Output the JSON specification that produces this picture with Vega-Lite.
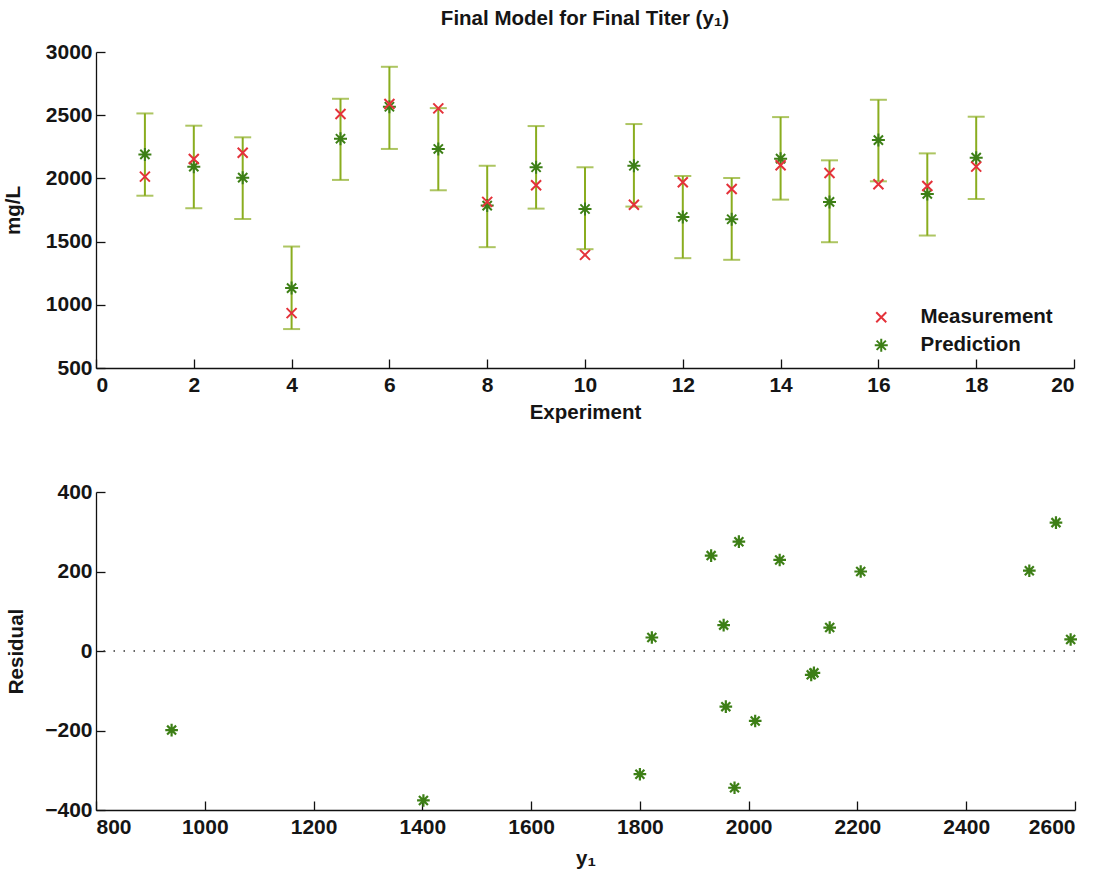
{
  "$schema": "https://vega.github.io/schema/vega-lite/v6.json",
  "background": "white",
  "padding": {"left": 3, "top": 8, "right": 5, "bottom": 5},
  "spacing": 58,
  "config": {
    "font": "Liberation Sans",
    "view": {"stroke": null},
    "axis": {"grid": false, "domainColor": "#111", "domainWidth": 1.3, "tickColor": "#111", "tickSize": -9, "tickWidth": 1.3, "labelFontSize": 21, "labelFontWeight": "bold", "labelColor": "#151515", "labelPadding": 13, "titleFontSize": 20.5, "titleFontWeight": "bold", "titleColor": "#151515", "labelFont": "Liberation Sans", "titleFont": "Liberation Sans", "format": "d"},
    "axisX": {"labelPadding": 15},
    "title": {"fontSize": 20.5, "fontWeight": "bold", "font": "Liberation Sans", "color": "#151515"}
  },
  "datasets": {
    "top": [
      {"Experiment": 1, "Measurement": 2014, "Prediction": 2190, "lo": 1863, "hi": 2514},
      {"Experiment": 2, "Measurement": 2153, "Prediction": 2093, "lo": 1764, "hi": 2417},
      {"Experiment": 3, "Measurement": 2203, "Prediction": 2006, "lo": 1679, "hi": 2325},
      {"Experiment": 4, "Measurement": 934, "Prediction": 1132, "lo": 808, "hi": 1461},
      {"Experiment": 5, "Measurement": 2509, "Prediction": 2314, "lo": 1988, "hi": 2630},
      {"Experiment": 6, "Measurement": 2588, "Prediction": 2567, "lo": 2233, "hi": 2883},
      {"Experiment": 7, "Measurement": 2554, "Prediction": 2233, "lo": 1906, "hi": 2556},
      {"Experiment": 8, "Measurement": 1814, "Prediction": 1785, "lo": 1456, "hi": 2100},
      {"Experiment": 9, "Measurement": 1946, "Prediction": 2088, "lo": 1761, "hi": 2414},
      {"Experiment": 10, "Measurement": 1395, "Prediction": 1758, "lo": 1440, "hi": 2088},
      {"Experiment": 11, "Measurement": 1792, "Prediction": 2100, "lo": 1777, "hi": 2430},
      {"Experiment": 12, "Measurement": 1969, "Prediction": 1695, "lo": 1369, "hi": 2019},
      {"Experiment": 13, "Measurement": 1916, "Prediction": 1677, "lo": 1356, "hi": 2003},
      {"Experiment": 14, "Measurement": 2104, "Prediction": 2156, "lo": 1832, "hi": 2485},
      {"Experiment": 15, "Measurement": 2043, "Prediction": 1814, "lo": 1495, "hi": 2143},
      {"Experiment": 16, "Measurement": 1954, "Prediction": 2303, "lo": 1977, "hi": 2622},
      {"Experiment": 17, "Measurement": 1940, "Prediction": 1877, "lo": 1548, "hi": 2198},
      {"Experiment": 18, "Measurement": 2093, "Prediction": 2164, "lo": 1837, "hi": 2488}
    ],
    "resid": [
      {"y1": 2012, "residual": -176},
      {"y1": 2149, "residual": 59},
      {"y1": 2206, "residual": 200},
      {"y1": 939, "residual": -199},
      {"y1": 2516, "residual": 202},
      {"y1": 2592, "residual": 29},
      {"y1": 2565, "residual": 323},
      {"y1": 1822, "residual": 34},
      {"y1": 1958, "residual": -140},
      {"y1": 1402, "residual": -376},
      {"y1": 1800, "residual": -310},
      {"y1": 1982, "residual": 275},
      {"y1": 1931, "residual": 240},
      {"y1": 2115, "residual": -60},
      {"y1": 2057, "residual": 229},
      {"y1": 1974, "residual": -344},
      {"y1": 1954, "residual": 65},
      {"y1": 2120, "residual": -55}
    ]
  },
  "vconcat": [
    {
      "width": 978,
      "height": 316,
      "title": {"text": "Final Model for Final Titer (y₁)", "anchor": "middle", "frame": "group", "offset": 12},
      "data": {"name": "top"},
      "encoding": {
        "x": {"field": "Experiment", "type": "quantitative", "scale": {"domain": [0, 20], "nice": false}, "axis": {"values": [0, 2, 4, 6, 8, 10, 12, 14, 16, 18, 20], "title": "Experiment", "titlePadding": 7}}
      },
      "layer": [
        {
          "mark": {"type": "rule", "color": "#8aad1f", "strokeWidth": 2},
          "encoding": {
            "y": {"field": "lo", "type": "quantitative", "scale": {"domain": [500, 3000], "nice": false}, "axis": {"values": [500, 1000, 1500, 2000, 2500, 3000], "title": "mg/L", "titlePadding": 22}},
            "y2": {"field": "hi"}
          }
        },
        {
          "mark": {"type": "tick", "orient": "horizontal", "size": 17, "thickness": 2, "color": "#8aad1f"},
          "encoding": {"y": {"field": "lo", "type": "quantitative", "title": "mg/L"}}
        },
        {
          "mark": {"type": "tick", "orient": "horizontal", "size": 17, "thickness": 2, "color": "#8aad1f"},
          "encoding": {"y": {"field": "hi", "type": "quantitative", "title": "mg/L"}}
        },
        {
          "transform": [{"fold": ["Prediction", "Measurement"], "as": ["series", "value"]}],
          "mark": {"type": "point", "filled": false, "strokeWidth": 2, "opacity": 1},
          "encoding": {
            "y": {"field": "value", "type": "quantitative", "title": "mg/L"},
            "shape": {"field": "series", "type": "nominal", "scale": {"domain": ["Measurement", "Prediction"], "range": ["M-1,-1L1,1M-1,1L1,-1", "M0,-1L0,1M-1,0L1,0M-0.71,-0.71L0.71,0.71M-0.71,0.71L0.71,-0.71"]}, "legend": {"title": null, "orient": "none", "legendX": 775, "legendY": 255, "labelFontSize": 20.5, "labelFontWeight": "bold", "labelColor": "#151515", "labelOffset": 29, "rowPadding": 6, "symbolStrokeWidth": 2, "padding": 0}},
            "color": {"field": "series", "type": "nominal", "scale": {"domain": ["Measurement", "Prediction"], "range": ["#e4323a", "#3d7f16"]}, "legend": {"title": null, "orient": "none", "legendX": 775, "legendY": 255, "labelFontSize": 20.5, "labelFontWeight": "bold", "labelColor": "#151515", "labelOffset": 29, "rowPadding": 6, "symbolStrokeWidth": 2, "padding": 0}},
            "size": {"field": "series", "type": "nominal", "scale": {"domain": ["Measurement", "Prediction"], "range": [100, 169]}, "legend": {"title": null, "orient": "none", "legendX": 775, "legendY": 255, "labelFontSize": 20.5, "labelFontWeight": "bold", "labelColor": "#151515", "labelOffset": 29, "rowPadding": 6, "symbolStrokeWidth": 2, "padding": 0}}
          }
        }
      ]
    },
    {
      "width": 979,
      "height": 318,
      "data": {"name": "resid"},
      "layer": [
        {
          "data": {"values": [{}]},
          "mark": {"type": "rule", "strokeDash": [1.5, 8.5], "color": "#333", "strokeWidth": 1.5},
          "encoding": {"y": {"datum": 0, "type": "quantitative"}}
        },
        {
          "mark": {"type": "point", "shape": "M0,-1L0,1M-1,0L1,0M-0.71,-0.71L0.71,0.71M-0.71,0.71L0.71,-0.71", "filled": false, "size": 160, "strokeWidth": 2.2, "color": "#3d7f16", "opacity": 1},
          "encoding": {
            "x": {"field": "y1", "type": "quantitative", "scale": {"domain": [800, 2600], "nice": false}, "axis": {"values": [800, 1000, 1200, 1400, 1600, 1800, 2000, 2200, 2400, 2600], "title": "y₁", "titlePadding": 11}},
            "y": {"field": "residual", "type": "quantitative", "scale": {"domain": [-400, 400], "nice": false}, "axis": {"values": [-400, -200, 0, 200, 400], "title": "Residual", "titlePadding": 18}}
          }
        }
      ]
    }
  ]
}
